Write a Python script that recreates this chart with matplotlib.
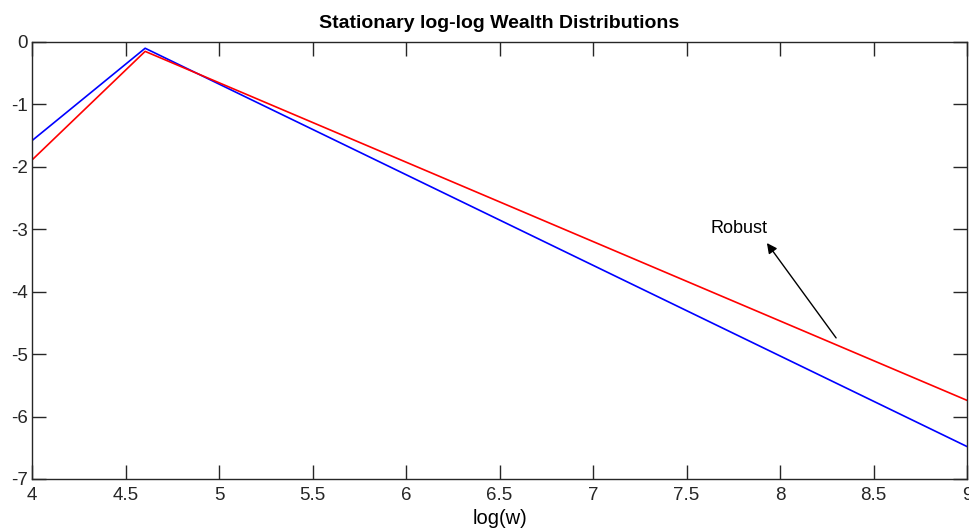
import numpy as np
import matplotlib.pyplot as plt

plt.rcParams['font.family'] = ['Liberation Sans', 'DejaVu Sans']

# ========================== DATA ==========================
logw = [4.0, 4.605, 9.0]
blue_y = [-1.58, -0.10, -6.48]
red_y = [-1.89, -0.15, -5.74]

annot_text = 'Robust'
annot_xy = (7.93, -3.22)      # arrow head
annot_tail = (8.30, -4.74)    # arrow tail (on red line)
annot_text_xy = (7.78, -2.98)

# ========================== PLOT ==========================
fig = plt.figure(figsize=(9.69, 5.28), dpi=100)
ax = fig.add_axes([32/969, 1 - 479/528, 935/969, 437/528])

ax.plot(logw, blue_y, color='#0000ff', linewidth=1.2)
ax.plot(logw, red_y, color='#ff0000', linewidth=1.2)

ax.annotate('', xy=annot_xy, xytext=annot_tail,
            arrowprops=dict(arrowstyle='-|>', color='black', lw=1.0,
                            mutation_scale=15, shrinkA=0, shrinkB=0))
ax.text(*annot_text_xy, annot_text, ha='center', va='center', fontsize=13)

ax.set_xlim(4, 9)
ax.set_ylim(-7, 0)
ax.set_xticks(np.arange(4, 9.01, 0.5))
ax.set_xticklabels(['4', '4.5', '5', '5.5', '6', '6.5', '7', '7.5', '8', '8.5', '9'])
ax.set_yticks(np.arange(-7, 0.01, 1))
ax.set_yticklabels(['-7', '-6', '-5', '-4', '-3', '-2', '-1', '0'])

ax.tick_params(direction='in', length=10, width=1, top=True, right=True,
               labelsize=13.5, color='#262626', labelcolor='#262626')
ax.tick_params(axis='x', pad=6)
ax.tick_params(axis='y', pad=3)
for s in ax.spines.values():
    s.set_color('#262626')
    s.set_linewidth(1)

ax.set_xlabel('log(w)', fontsize=14.5, labelpad=3)
ax.set_title('Stationary log-log Wealth Distributions', fontsize=14,
             fontweight='bold', pad=10)

plt.savefig('out.png', dpi=100)
